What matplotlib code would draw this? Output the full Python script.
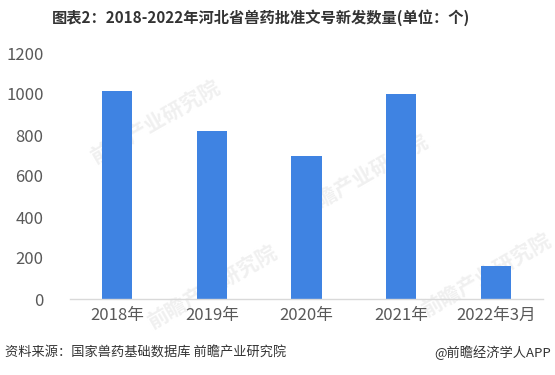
import matplotlib
matplotlib.use('Agg')
import matplotlib.pyplot as plt

plt.rcParams['font.family'] = ['Noto Sans CJK SC', 'DejaVu Sans']

# 数据
categories = ['2018年', '2019年', '2020年', '2021年', '2022年3月']
values = [1015, 820, 698, 1000, 161]
yticks = [0, 200, 400, 600, 800, 1000, 1200]

fig = plt.figure(figsize=(5.55, 3.75), dpi=100)
ax = fig.add_axes([70 / 555, 1 - 299 / 375, 473 / 555, 246 / 375])

x = range(len(categories))
ax.bar(x, values, width=0.32, color='#3F83E2', zorder=2)

ax.set_xlim(-0.5, len(categories) - 0.5)
ax.set_ylim(0, 1200)
ax.set_yticks(yticks)
ax.set_yticklabels([str(v) for v in yticks], fontsize=12, color='#595959')
ax.set_xticks(list(x))
ax.set_xticklabels(categories, fontsize=12, color='#595959')
ax.tick_params(axis='both', length=0)
ax.tick_params(axis='y', pad=19)
ax.tick_params(axis='x', pad=6)

for s in ['left', 'top', 'right']:
    ax.spines[s].set_visible(False)
ax.spines['bottom'].set_color('#d9d9d9')
ax.spines['bottom'].set_linewidth(1)

# 水印（放在柱子下面）
for wx, wy in [(0.18, 0.72), (0.62, 0.5), (0.3, 0.05), (0.88, 0.1)]:
    ax.text(wx, wy, '前瞻产业研究院', transform=ax.transAxes, fontsize=15,
            color='#f0f0f0', rotation=30, ha='center', va='center',
            fontweight='bold', zorder=1)

fig.text(261 / 555, 1 - 18 / 375, '图表2：2018-2022年河北省兽药批准文号新发数量(单位：个)',
         ha='center', va='center', fontsize=11, fontweight='bold', color='#333333')
fig.text(5 / 555, 1 - 353 / 375, '资料来源：国家兽药基础数据库 前瞻产业研究院',
         ha='left', va='center', fontsize=9.5, color='#333333')
fig.text(551 / 555, 1 - 353 / 375, '@前瞻经济学人APP',
         ha='right', va='center', fontsize=9.5, color='#333333')

fig.savefig('out.png', dpi=100)
